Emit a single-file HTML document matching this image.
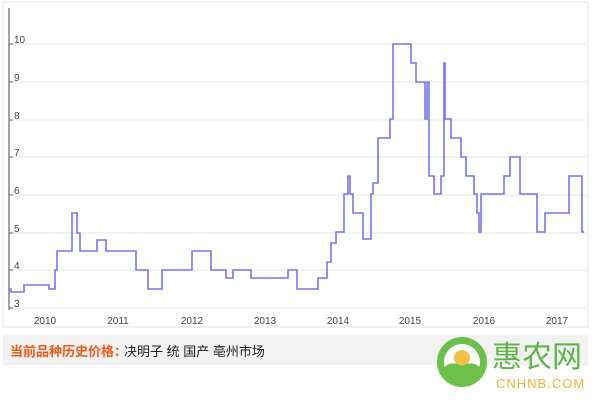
<!DOCTYPE html>
<html><head><meta charset="utf-8"><style>
body{margin:0;width:600px;height:400px;background:#fff;overflow:hidden;font-family:"Liberation Sans","Noto Sans CJK SC",sans-serif}
</style></head><body>
<svg width="600" height="400" xmlns="http://www.w3.org/2000/svg" style="position:absolute;left:0;top:0">
<rect x="3" y="2" width="585" height="325" fill="none" stroke="#e4e4e4"/>
<g stroke="#e6e6e6" stroke-width="1">
<line x1="10" x2="586" y1="44" y2="44"/><line x1="10" x2="586" y1="82" y2="82"/>
<line x1="10" x2="586" y1="120" y2="120"/><line x1="10" x2="586" y1="157" y2="157"/>
<line x1="10" x2="586" y1="195" y2="195"/><line x1="10" x2="586" y1="233" y2="233"/>
<line x1="10" x2="586" y1="270" y2="270"/><line x1="10" x2="586" y1="308" y2="308"/>
</g>
<line x1="9" y1="8" x2="9" y2="310" stroke="#666" stroke-width="1.2"/>
<g stroke="#666"><line x1="9" x2="13" y1="44" y2="44"/><line x1="9" x2="13" y1="82" y2="82"/><line x1="9" x2="13" y1="120" y2="120"/><line x1="9" x2="13" y1="157" y2="157"/><line x1="9" x2="13" y1="195" y2="195"/><line x1="9" x2="13" y1="233" y2="233"/><line x1="9" x2="13" y1="270" y2="270"/><line x1="9" x2="13" y1="308" y2="308"/></g>
<g font-size="10" fill="#444" font-family="Liberation Sans,sans-serif">
<text x="14" y="43">10</text><text x="14" y="81">9</text><text x="14" y="119">8</text><text x="14" y="156">7</text><text x="14" y="194">6</text><text x="14" y="232">5</text><text x="14" y="269">4</text><text x="14" y="307">3</text>
</g>
<g font-size="10" fill="#444" text-anchor="middle">
<text x="45" y="324">2010</text><text x="118" y="324">2011</text><text x="192" y="324">2012</text><text x="265" y="324">2013</text><text x="338" y="324">2014</text><text x="410" y="324">2015</text><text x="484" y="324">2016</text><text x="557" y="324">2017</text>
</g>
<polyline fill="none" stroke="#7676ec" stroke-width="1.6" points="
9,289 11,289 11,292 24,292 24,285 49,285 49,289 55,289 55,270 57,270 57,251 72,251 72,213 77,213 77,233 80,233 80,251 97,251 97,240 106,240 106,251 136,251 136,270 148,270 148,289 162,289 162,270 192,270 192,251 211,251 211,270 226,270 226,278 233,278 233,270 251,270 251,278 288,278 288,270 297,270 297,289 318,289 318,278 327,278 327,262 331,262 331,243 336,243 336,232 344,232 344,194 348,194 348,176 350,176 350,194 353,194 353,213 363,213 363,239 371,239 371,194 373,194 373,183 378,183 378,138 390,138 390,119 393,119 393,44 411,44 411,63 416,63 416,82 425,82 425,119 427,119 427,82 429,82 429,176 434,176 434,194 441,194 441,176 444,176 444,63 445,63 445,119 451,119 451,138 461,138 461,157 466,157 466,176 474,176 474,194 477,194 477,213 479,213 479,232 481,232 481,194 504,194 504,176 510,176 510,157 520,157 520,194 537,194 537,232 545,232 545,213 569,213 569,176 582,176 582,232 584,232"/>
<rect x="3" y="335" width="585" height="30" fill="#f2f2f2"/>
<text x="10" y="356" font-size="13" font-weight="bold" fill="#f05a1a">当前品种历史价格：</text>
<text x="124" y="356" font-size="13" fill="#222">决明子 统 国产 亳州市场</text>
<circle cx="462" cy="362" r="25" fill="#6cbf4a"/>
<circle cx="462" cy="362" r="18" fill="#fff"/>
<circle cx="462" cy="358" r="8" fill="#f4c04a"/>
<path d="M444 368 Q450 360 462 366 Q474 360 480 368 Q476 384 462 386 Q448 384 444 368Z" fill="#6cbf4a"/>
<text x="492" y="367" font-size="30" fill="#5fb548">惠农网</text>
<text x="496" y="388" font-size="13" fill="#f2b33d" letter-spacing="1">CNHNB.COM</text>
</svg>
</body></html>
